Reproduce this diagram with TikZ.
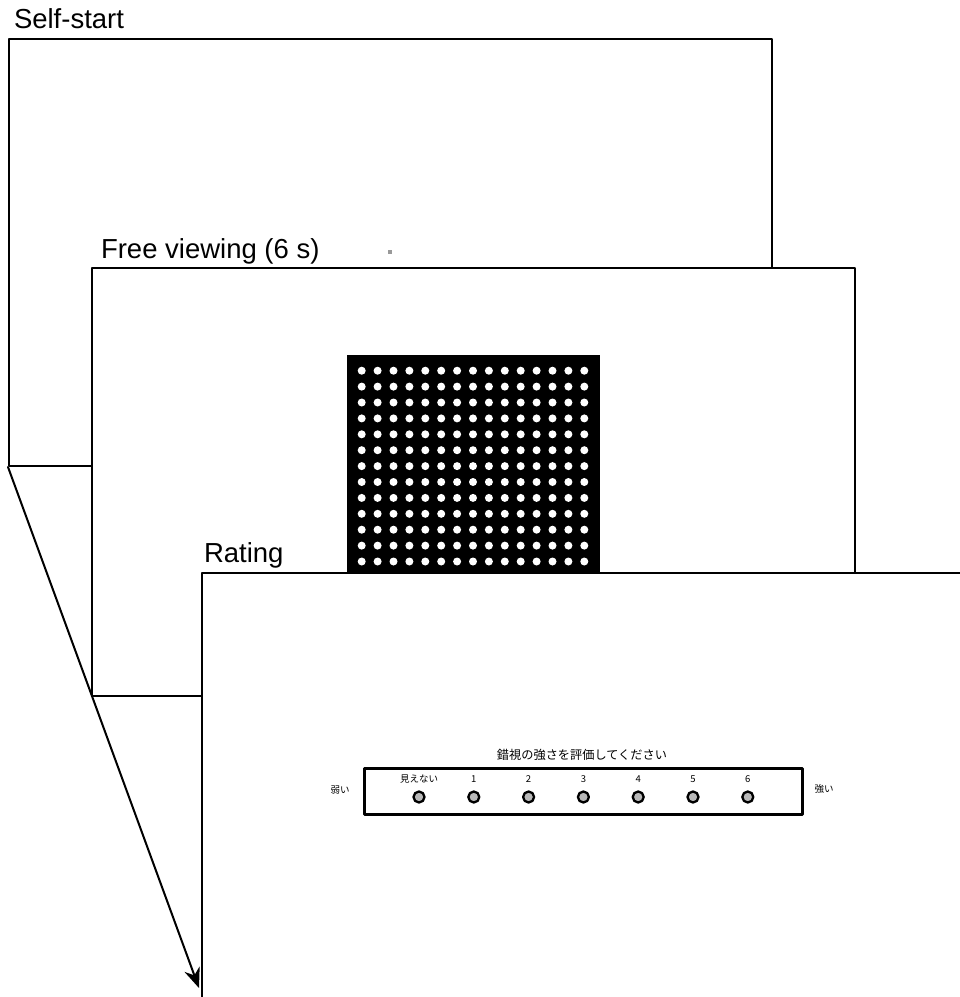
\documentclass[tikz,border=0pt]{standalone}
\usepackage{fontspec}
\setmainfont{Liberation Sans}
\newfontfamily\jpfont{Noto Sans CJK JP}
\usetikzlibrary{arrows.meta,positioning}
\tikzstyle{screen}=[draw,fill=white,rectangle,inner sep=0pt,anchor=north west]
\tikzstyle{caption}=[font=\fontsize{27.5}{30}\selectfont,inner sep=0pt,anchor=base west]
\tikzstyle{jp}=[font=\jpfont\fontsize{9.5}{10}\selectfont,inner sep=0pt]
\tikzstyle{radio}=[circle,draw,line width=2.3pt,fill=gray!55,minimum size=11pt,inner sep=0pt]

\begin{document}
\begin{tikzpicture}[x=1pt,y=-1pt,line width=2pt,line cap=round,line join=round]
% Trial sequence, three screens
	\newcommand\dotgap{15.9} %gap between dots of the stimulus
	\newcommand\radiogap{54.8} %gap between radio buttons
	\clip (0,0) rectangle (960,997);
	\node[screen,minimum width=763pt,minimum height=427pt] (selfstart) at (8,38) {}; %% first screen
	\node[caption] (selfstartlabel) at (13,28) {Self-start};
	\node[fill=gray!80,minimum size=4pt,inner sep=0pt] (fixation) at (390,252) {};
	\node[screen,minimum width=763pt,minimum height=428pt] (freeview) at (91,267) {}; %% second screen
	\node[caption] (freeviewlabel) at (100,258) {Free viewing (6 s)};
	\node[fill=black,minimum size=253pt,inner sep=0pt,anchor=north west] (stimulus) at (346,354) {};
	\foreach \i in {0,...,14}
		\foreach \j in {0,...,14}
			\fill[white] (361.7+\i*\dotgap,370.7+\j*\dotgap) circle (4pt);
	\node[caption] (ratinglabel) at (203,562) {Rating};
	\node[screen,minimum width=800pt,minimum height=450pt] (rating) at (201,572) {}; %% third screen
	\node[draw,line width=2.5pt,minimum width=438pt,minimum height=46pt,inner sep=0pt,anchor=north west] (scale) at (363,767) {};
	\node[jp,font=\jpfont\fontsize{12.2}{13}\selectfont] (question) at (582,755) {錯視の強さを評価してください};
	\node[jp] (weak) at (340,790) {弱い};
	\node[jp] (strong) at (824,789) {強い};
	\foreach \lab [count=\k from 0] in {見えない,1,2,3,4,5,6}{
		\node[radio] (opt\k) at (419+\k*\radiogap,797) {};
		\node[jp,text height=7pt,text depth=1pt,above=6pt of opt\k] (optlabel\k) {\lab};
	}
	\coordinate (arrowtip) at (199,988);
	\draw[-{Stealth[length=20pt,width=16pt]}] (selfstart.south west) -- (arrowtip);
\end{tikzpicture}
\end{document}
